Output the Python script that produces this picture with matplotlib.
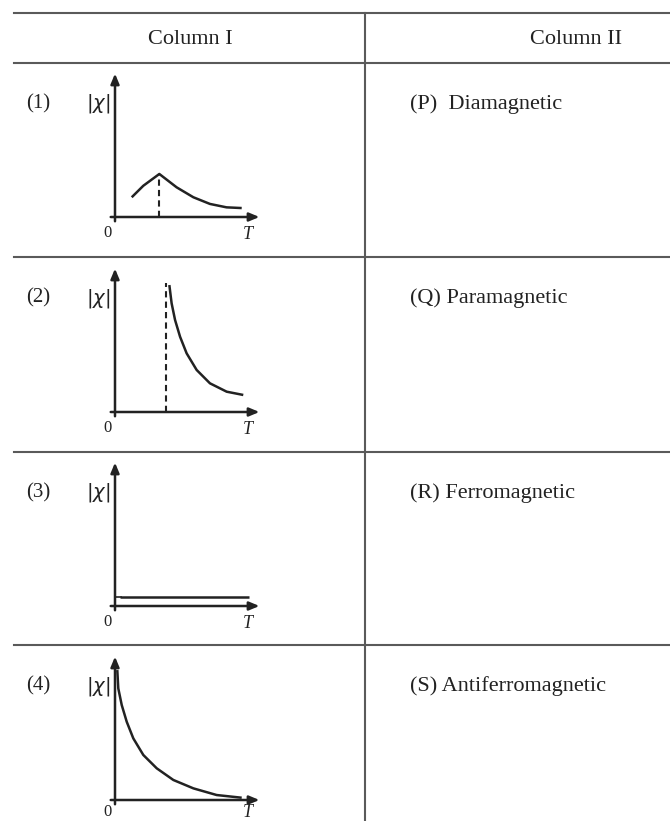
import numpy as np
import matplotlib.pyplot as plt

W, H = 670, 821

# table text
header = ["Column I", "Column II"]
row_nums = ["(1)", "(2)", "(3)", "(4)"]
answers = ["(P)  Diamagnetic", "(Q) Paramagnetic", "(R) Ferromagnetic", "(S) Antiferromagnetic"]

T1 = [1.17, 1.98, 3.1, 4.31, 5.48, 6.64, 7.8, 8.86]
chi1 = [1.39, 2.2, 3.03, 2.09, 1.39, 0.92, 0.68, 0.63]
peak1 = 3.1

T2 = [3.8, 3.96, 4.2, 4.55, 5.01, 5.71, 6.64, 7.81, 8.97]
chi2 = [8.94, 7.65, 6.48, 5.3, 4.13, 2.96, 2.02, 1.43, 1.2]
tc2 = 3.6
tc2_top = 9.1

T3 = [0.35, 9.4]
chi3 = [0.63, 0.63]

T4 = [0.16, 0.23, 0.47, 0.82, 1.28, 1.98, 2.92, 4.08, 5.48, 7.11, 8.86]
chi4 = [9.15, 7.86, 6.69, 5.51, 4.34, 3.17, 2.23, 1.41, 0.82, 0.35, 0.16]

line_col = "#5a5a5a"
ink = "#222222"
serif = ["Liberation Serif", "DejaVu Serif"]

fig = plt.figure(figsize=(W / 100, H / 100), dpi=100)
ax = fig.add_axes([0, 0, 1, 1])
ax.set_xlim(0, W)
ax.set_ylim(H, 0)
ax.axis("off")

# table rules
row_tops = [63, 257, 452, 645]
ax.plot([14, W], [13, 13], color=line_col, lw=1.5)
for y in row_tops:
    ax.plot([14, W], [y, y], color=line_col, lw=1.5)
ax.plot([365, 365], [13, H], color=line_col, lw=1.5)

ax.text(190, 39, header[0], ha="center", va="center", fontsize=16, family=serif, color=ink)
ax.text(576, 39, header[1], ha="center", va="center", fontsize=16, family=serif, color=ink)

for y, num, ans in zip(row_tops, row_nums, answers):
    ax.text(38, y + 41, num, ha="center", va="center", fontsize=15, family=serif, color=ink)
    ax.text(410, y + 41, ans, ha="left", va="center", fontsize=16, family=serif, color=ink)

# small graphs
origins = [217, 412, 606, 800]
curves = [(T1, chi1), (T2, chi2), (T3, chi3), (T4, chi4)]
for i, (oy, (tt, cc)) in enumerate(zip(origins, curves)):
    g = fig.add_axes([115 / W, (H - oy) / H, 143 / W, 142 / H])
    g.set_xlim(0, 10)
    g.set_ylim(0, 10)
    g.axis("off")
    arr = dict(arrowstyle="-|>,head_length=0.6,head_width=0.25", color=ink, lw=1.8,
               shrinkA=0, shrinkB=0)
    g.annotate("", xy=(10.1, 0), xytext=(-0.3, 0), arrowprops=arr, annotation_clip=False)
    g.annotate("", xy=(0, 10.1), xytext=(0, -0.3), arrowprops=arr, annotation_clip=False)
    g.plot(tt, cc, color=ink, lw=1.8, clip_on=False, solid_capstyle="butt",
           solid_joinstyle="round")
    if i == 0:
        g.plot([peak1, peak1], [0, chi1[2]], color=ink, lw=1.5, ls=(0, (3, 2)))
    if i == 1:
        g.plot([tc2, tc2], [0, tc2_top], color=ink, lw=1.5, ls=(0, (3, 2)))
    if i == 2:
        g.plot([0, 0.4], [0.63, 0.63], color=ink, lw=1.2)
    lab_y = -0.85 if i == 3 else -1.1
    g.text(-1.2, 8.0, r"$|\chi|$", ha="center", va="center", fontsize=14, color=ink,
           clip_on=False)
    g.text(-0.5, lab_y, "0", ha="center", va="center", fontsize=12, family=serif,
           color=ink, clip_on=False)
    g.text(9.3, lab_y - (0.0 if i == 3 else 0.1), "T", ha="center", va="center",
           fontsize=13, family=serif, style="italic", color=ink, clip_on=False)

fig.savefig("out.png", dpi=100, facecolor="white")
